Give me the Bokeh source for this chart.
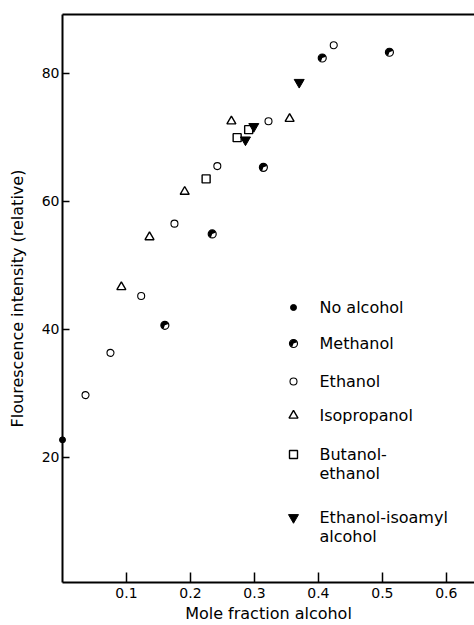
from bokeh.plotting import figure
from bokeh.models import Range1d, FixedTicker, LinearAxis, Label
from bokeh.embed import file_html
from bokeh.resources import INLINE

FONT = "DejaVu Sans"

# Mole fraction alcohol (x) vs relative fluorescence intensity (y)
no_alcohol_x = [0.0]
no_alcohol_y = [22.7]

methanol_x = [0.160, 0.234, 0.314, 0.406, 0.511]
methanol_y = [40.6, 54.9, 65.3, 82.4, 83.3]

ethanol_x = [0.036, 0.075, 0.123, 0.175, 0.242, 0.322, 0.424]
ethanol_y = [29.7, 36.3, 45.2, 56.5, 65.5, 72.5, 84.4]

isopropanol_x = [0.092, 0.136, 0.191, 0.264, 0.355]
isopropanol_y = [46.6, 54.4, 61.5, 72.5, 72.9]

butanol_ethanol_x = [0.2245, 0.273, 0.291]
butanol_ethanol_y = [63.5, 69.95, 71.2]

ethanol_isoamyl_x = [0.286, 0.299, 0.370]
ethanol_isoamyl_y = [69.6, 71.7, 78.6]

x_ticks = [0.1, 0.2, 0.3, 0.4, 0.5, 0.6]
y_ticks = [20, 40, 60, 80]

x_title = "Mole fraction alcohol"
y_title = "Flourescence intensity (relative)"

legend_labels = ["No alcohol", "Methanol", "Ethanol", "Isopropanol",
                 "Butanol-\nethanol", "Ethanol-isoamyl\nalcohol"]

# frame geometry in pixels
FRAME_L, FRAME_T = 62, 14
FRAME_W, FRAME_H = 412, 568

p = figure(width=474, height=625, output_backend="svg", toolbar_location=None,
           x_range=Range1d(0, 0.644), y_range=Range1d(0.4, 89.2),
           min_border_left=FRAME_L, min_border_right=0,
           min_border_top=FRAME_T, min_border_bottom=625 - FRAME_T - FRAME_H)
p.grid.visible = False
p.outline_line_color = None
p.background_fill_color = "white"
p.border_fill_color = "white"

# pixel-based ranges for the key block
p.extra_x_ranges = {"key": Range1d(0, FRAME_W)}
p.extra_y_ranges = {"key": Range1d(FRAME_H, 0)}
rk = dict(x_range_name="key", y_range_name="key")

# axes
xa = p.xaxis[0]
xa.ticker = FixedTicker(ticks=x_ticks)
xa.major_label_overrides = {t: str(t) for t in x_ticks}
xa.axis_label = x_title
xa.minor_tick_line_color = None
xa.major_tick_in = 10
xa.major_tick_out = 0
xa.major_label_standoff = 5
xa.axis_label_standoff = 3

ya = p.yaxis[0]
ya.ticker = FixedTicker(ticks=y_ticks)
ya.axis_label = y_title
ya.minor_tick_line_color = None
ya.major_tick_in = 7
ya.major_tick_out = 0
ya.major_label_standoff = 3
ya.axis_label_standoff = 12

for ax in (xa, ya):
    ax.axis_line_width = 2
    ax.axis_line_color = "black"
    ax.major_tick_line_width = 1.5
    ax.major_tick_line_color = "black"
    ax.major_label_text_font = FONT
    ax.major_label_text_font_size = "14px"
    ax.major_label_text_color = "black"
    ax.axis_label_text_font = FONT
    ax.axis_label_text_font_size = "16px"
    ax.axis_label_text_font_style = "normal"
    ax.axis_label_text_color = "black"

top = LinearAxis(ticker=FixedTicker(ticks=[]), axis_line_width=2,
                 axis_line_color="black", major_tick_in=0, major_tick_out=0,
                 minor_tick_line_color=None, major_label_standoff=0,
                 major_label_text_font_size="0px")
p.add_layout(top, "above")

# half-filled methanol circle: outline plus a filled wedge
def methanol_marker(xs, ys, **kw):
    p.scatter(xs, ys, marker="circle", size=8, fill_color="white",
              line_color="black", line_width=1.2, **kw)
    p.wedge(xs, ys, radius=4, radius_units="screen", start_angle=20,
            end_angle=250, start_angle_units="deg", end_angle_units="deg",
            fill_color="black", line_color=None, **kw)

# the zero-alcohol point sits on the y axis, so draw it above the axes
p.scatter(no_alcohol_x, no_alcohol_y, marker="circle", size=6,
          fill_color="black", line_color="black", level="overlay")
methanol_marker(methanol_x, methanol_y)
p.scatter(ethanol_x, ethanol_y, marker="circle", size=7, fill_color="white",
          line_color="black", line_width=1.1)
p.scatter(isopropanol_x, isopropanol_y, marker="triangle", size=9,
          fill_color="white", line_color="black", line_width=1.4)
p.scatter(butanol_ethanol_x, butanol_ethanol_y, marker="square", size=8,
          fill_color="white", line_color="black", line_width=1.4)
p.scatter(ethanol_isoamyl_x, ethanol_isoamyl_y, marker="inverted_triangle",
          size=10, fill_color="black", line_color="black")

# key block (pixel positions inside the frame)
key_x = 231
text_x = 257
row_y = [293, 329, 367, 401, 440, 503]
line_gap = 19

p.scatter([key_x], [row_y[0]], marker="circle", size=6, fill_color="black",
          line_color="black", **rk)
methanol_marker([key_x], [row_y[1]], **rk)
p.scatter([key_x], [row_y[2]], marker="circle", size=7, fill_color="white",
          line_color="black", line_width=1.1, **rk)
p.scatter([key_x], [row_y[3]], marker="triangle", size=9, fill_color="white",
          line_color="black", line_width=1.4, **rk)
p.scatter([key_x], [row_y[4]], marker="square", size=8, fill_color="white",
          line_color="black", line_width=1.4, **rk)
p.scatter([key_x], [row_y[5]], marker="inverted_triangle", size=10,
          fill_color="black", line_color="black", **rk)

for label, y0 in zip(legend_labels, row_y):
    for i, line in enumerate(label.split("\n")):
        p.add_layout(Label(x=text_x, y=y0 + i * line_gap, text=line,
                           text_font=FONT, text_font_size="16px",
                           text_color="black", text_baseline="middle",
                           text_align="left", **rk))

open("out.html", "w").write(file_html(p, INLINE))
